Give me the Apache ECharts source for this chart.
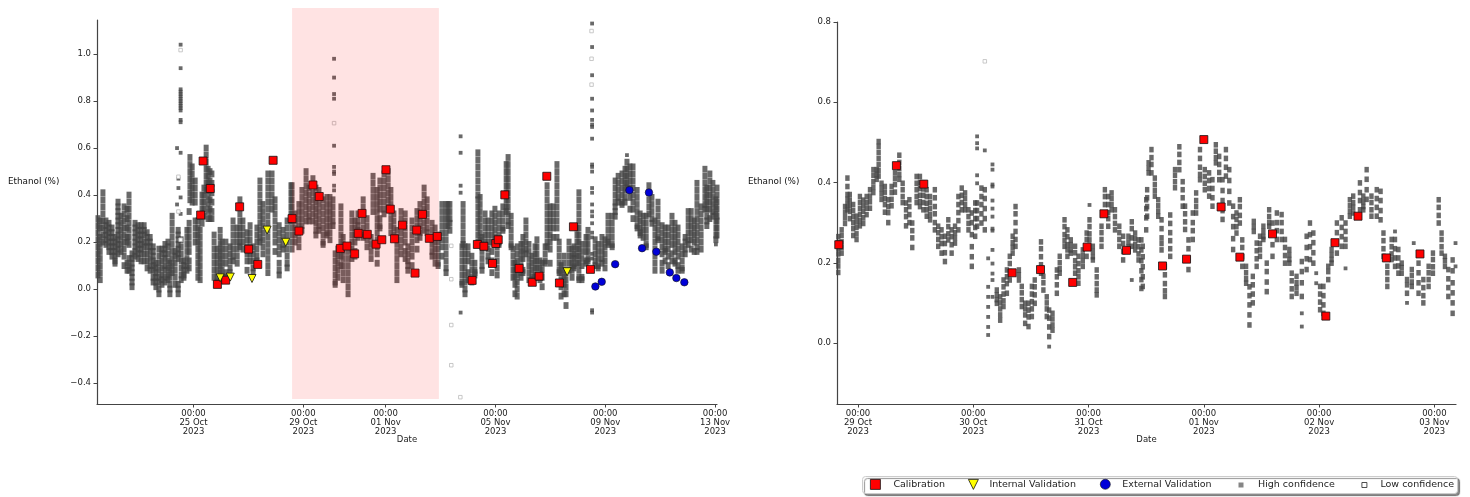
<!DOCTYPE html>
<html><head><meta charset="utf-8">
<style>html,body{margin:0;padding:0;background:#fff}#c{width:1470px;height:497px}</style>
<script src="https://cdn.jsdelivr.net/npm/echarts@6/dist/echarts.min.js"></script>
</head><body><div id="c"></div>
<script>
const DAY=86400000, HOUR=3600000;
const OCT25=new Date(2023,9,25).getTime(), OCT29=new Date(2023,9,29).getTime();
const tickLabelsLeft=["00:00\n25 Oct\n2023","00:00\n29 Oct\n2023","00:00\n01 Nov\n2023","00:00\n05 Nov\n2023","00:00\n09 Nov\n2023","00:00\n13 Nov\n2023"];
const tickDaysLeft=[0,4,7,11,15,19];
const tickLabelsRight=["00:00\n29 Oct\n2023","00:00\n30 Oct\n2023","00:00\n31 Oct\n2023","00:00\n01 Nov\n2023","00:00\n02 Nov\n2023","00:00\n03 Nov\n2023"];
const tickHoursRight=[0,24,48,72,96,120];
const yTicksLeft=[-0.4,-0.2,0,0.2,0.4,0.6,0.8,1.0];
const yTicksRight=[0,0.2,0.4,0.6,0.8];
// Left panel: [days after 25 Oct, value]
const calibrationLeft=[[.26,.315],[.35,.545],[.61,.428],[.87,.02],[1.17,.038],[1.68,.35],[2.01,.17],[2.34,.105],[2.9,.548],[3.59,.3],[3.84,.247],[4.35,.443],[4.58,.394],[5.35,.173],[5.59,.183],[5.87,.15],[6,.237],[6.14,.322],[6.33,.233],[6.65,.191],[6.86,.21],[7.01,.508],[7.17,.34],[7.32,.214],[7.61,.272],[8.07,.068],[8.13,.251],[8.34,.318],[8.59,.216],[8.88,.224],[10.15,.037],[10.34,.19],[10.58,.182],[10.89,.109],[11.01,.194],[11.1,.21],[11.34,.401],[11.86,.088],[12.34,.029],[12.59,.055],[12.87,.48],[13.33,.026],[13.84,.265],[14.46,.084]];
const internalLeft=[[.97,.048],[1.34,.051],[2.13,.045],[2.68,.251],[3.36,.199],[13.61,.074]];
const externalLeft=[[14.64,.011],[14.87,.031],[15.36,.106],[15.88,.421],[16.34,.174],[16.59,.411],[16.86,.159],[17.35,.071],[17.59,.047],[17.88,.029]];
const lowLeft=[[-.47,1.017],[-.55,.478],[-.55,.33],[-.47,.21],[5.12,.706],[9.39,.184],[9.39,.042],[9.39,-.153],[9.39,-.324],[9.72,-.46],[14.5,1.098],[14.5,.98],[14.5,.87]];
// Left panel readings: [days after 25 Oct, [values in hundredths]]
const highLeftColumns=[
[-3.48,[30,27,24,21,18,15,12,9,6]],[-3.4,[29,26,22,19,16,13,10,7,4]],[-3.3,[41,38,35,32,29,26,23,20]],[-3.19,[29,27,25,23,21,19]],[-3.08,[28,26,24,22,20,18,16]],[-2.97,[26,24,22,20,18,16,14]],[-2.86,[22,20,18,16,14,12,11]],[-2.75,[37,35,33,31,29,27,25,23,21,19,17,15]],[-2.64,[31,28,25,22,19,16]],[-2.53,[35,32,29,26,23,20,17,14,10]],[-2.42,[34,30,26,22,20,11,8]],[-2.35,[40,37,34,31,28,25,22,19,13,10,8]],[-2.24,[15,13,11,9,7,5,3,1]],[-2.13,[28,26,24,22,20,18,16,14]],[-2.02,[27,25,23,21,19,17,15,13]],[-1.91,[27,25,23,21,19,17,15,12]],[-1.8,[27,25,23,20,18,15,12]],[-1.69,[24,22,20,18,15,12,9]],[-1.58,[22,20,18,16,13,10,8]],[-1.47,[18,16,14,12,10,8,5,3]],[-1.37,[11,9,7,5,3,1]],[-1.26,[17,14,11,8,5,3,0,-2]],[-1.15,[17,15,12,9,6,4,2]],[-1.04,[19,17,15,13,10,8,5,3]],[-.93,[20,18,15,12,9,6,4]],[-.86,[11,8,5,2,0,-2]],[-.78,[31,28,25,22,19,16,13,10,7]],[-.67,[16,14,11,8,5,2]],[-.56,[25,23,21,19,17,15,13,2,0,-2]],[-.45,[21,18,15,12,9,6,4]],[-.35,[12,10,8,6,5]],[-.24,[25,22,19,16,13,10,8]],[-.16,[33,28,25,22,19,16,12,9]],[-.13,[56,53,50,47,44,41,38]],[-.05,[52,49,46,43,40,37]],[.06,[46,43,40,37,29,26,23,20]],[.16,[29,26,23,20,17,14,11,8,5]],[.24,[31,25,22,19,16,13,10,7,4]],[.31,[40,37,34,31,28]],[.38,[43,40,37,34,31]],[.46,[60,57,54,51,48,45,42]],[.53,[51,48,45,42,39,36,33,30]],[.6,[50,46,42,38,34,30]],[.67,[49,45,41,37,33,30]],[.75,[23,20,17,14,11,8,5]],[.86,[17,14,11,8,5,3]],[.97,[25,22,19,16,13,10,7,5]],[1.04,[20,17,14,11,8,5]],[1.18,[20,17,14,11,7,5]],[1.33,[18,15,12,9,7]],[1.44,[29,26,23,20,17,14,12]],[1.59,[26,23,20,17,14,11]],[1.69,[38,35,32,29,26,23,20,18]],[1.8,[29,26,23,20,17]],[1.95,[24,21,18,15,12,8]],[2.06,[27,24,21,18,15,12]],[2.17,[18,15,12,9,7]],[2.31,[26,23,20,17,14,12]],[2.42,[46,43,40,37,34,31,28,25,22,20]],[2.53,[36,33,30,27,24,21,18,15]],[2.71,[49,46,43,40,37,34,31,28,25,22,19,16,13,10,7]],[2.86,[49,46,43,40,37,34]],[2.97,[38,35,32,29,26,23,20,16]],[3.12,[27,24,21,18,15,11,8,6]],[3.26,[25,22,19,17]],[3.41,[29,26,23,20,17,14,11,9]],[3.55,[44,41,38,35,32,29]],
[3.59,[44,41,38,35,32,29,26,23,20,17]],[3.7,[32,29,26,23,20]],[3.84,[36,33,30,27,24,21,18]],[3.95,[42,39,36,33,30,27,25]],[4.1,[50,47,44,41,38,35,32,29]],[4.21,[43,40,37,34,31,29]],[4.35,[47,44,41,38,35,32,29]],[4.46,[43,40,37,34,31,28,25,23]],[4.57,[42,39,36,33,30,27,25]],[4.72,[38,35,32,29,26,23,20,19]],[4.86,[39,36,33,30,27,24,23]],[4.97,[39,36,33,30,27,24,21]],[5.08,[38,35,32,29,27]],[5.16,[15,12,9,6,3,2]],[5.26,[17,14,11,8,5]],[5.37,[35,32,29,26,23,20,17,14,10]],[5.45,[22,19,16,13,10,7,4]],[5.63,[16,13,10,7,4,1,-2]],[5.77,[32,29,26,23,20,17,13]],[5.88,[29,26,23,20,16,14]],[5.99,[32,29,27,25,22]],[6.18,[38,35,32,29,26,23,22]],[6.32,[30,27,24,21,18]],[6.47,[22,19,16,13]],[6.54,[48,45,42,39,36,33]],[6.69,[42,39,36,33,30,27,24,21,18,15,11]],[6.79,[46,43,40,37,34,30,27,26]],[6.94,[49,46,43,40,37,34,32]],[7.09,[50,47,44,41,38,35]],[7.19,[42,39,36,33,30,27,24]],[7.3,[32,29,26,23,22]],[7.41,[25,22,19,16,13,10,7,4]],[7.56,[33,30,27,24,21,18,15]],[7.71,[32,29,26,23,20,16,13]],[7.81,[18,15,12,10,8]],[7.96,[29,26,23,20,17,14,10]],[8.14,[33,30,27,24,21,17]],[8.25,[36,33,30,27,24,22]],[8.4,[43,40,37,34,31,28,25]],[8.51,[38,35,32,29,26,24]],[8.69,[28,25,22,19,16,14]],[8.8,[26,23,20,17,14,11]],[8.91,[23,20,17,14,11,10]],[9.05,[36,33,30,27,24,21,18,14]],[9.2,[36,33,30,27,24,21,18,15,12,9,7]],[9.27,[36,33,30,27]],[9.34,[36,33,30,28,25]],
[9.78,[18,15,12,9,6,3,2]],[9.82,[36,33,30,27,24,21,19]],[9.89,[18,15,12,9,6,3,0,-2]],[10,[18,15,12,7,4]],[10.14,[14,11,8,5,3]],[10.25,[11,8,7,6]],[10.36,[58,55,52,49,46,43,40,38,35,32,29,26,23,20]],[10.44,[39,36,33,30,27,24,21]],[10.51,[22,19,16,13,10,8]],[10.62,[32,29,26,23,20,18]],[10.73,[29,26,23,20,17,14,12]],[10.87,[32,29,26,23,20,16,12,7]],[10.98,[34,31,28,25,22,19]],[11.06,[21,18,15,12,9,6]],[11.13,[32,29,26,23,20,19]],[11.27,[35,32,29,26,25]],[11.39,[53,50,47,44,41,38,35,33]],[11.46,[56,53,50,47,44,41,38,35,32,29,27]],[11.57,[31,28,25,22,19,18]],[11.64,[17,14,11,8,5]],[11.71,[11,8,5,2,-2]],[11.79,[18,15,12,9,6,3,0,-3]],[11.93,[19,16,13,10,7,5]],[12,[22,19,16,13,8,7]],[12.11,[29,26,23,20,17,15]],[12.22,[19,16,13,10,7,4]],[12.33,[14,11,8,5,4]],[12.44,[18,15,12,9,6,5]],[12.51,[21,18,15,12,9,5]],[12.62,[12,9,6,4]],[12.7,[11,8,5,1]],[12.81,[18,15,12,11]],[12.88,[44,41,38,35,32,29,26,23,20,18]],[12.99,[35,32,29,26,23,20,17,11]],[13.1,[35,32,29,26,22]],[13.24,[53,50,47,44,41,38,35,32,29,26,22]],[13.32,[20,17,14,11,8,7]],[13.39,[10,7,4,1,-3]],[13.5,[14,11,8,5,2,-2]],[13.57,[7,4,1,-2,-7]],[13.68,[20,17,14,11,8]],[13.79,[17,14,11,8,5]],[13.86,[18,15,13,10,9]],[13.97,[26,23,20,17,14,11]],[14.04,[41,38,35,32,29,26,23,20,17,14,11,8,5,4]],[14.15,[19,16,13,10,5,4]],[14.3,[22,19,16,12,11]],[14.37,[25,22,19,16,13,12]],[14.63,[21,18,15,12,10]],[14.74,[19,16,13,10,9]],[14.88,[22,19,16,13,11]],[14.99,[21,18,15,12,9]],[15.1,[31,28,25,22,20,19]],[15.25,[31,28,25,22,19,18]],[15.36,[46,43,40,37,35,33,31]],[15.47,[48,45,42,39,37]],[15.61,[49,46,43,40,37,36]],[15.72,[51,48,45,42,39,37]],[15.79,[54,51,48,45,43]],[15.9,[52,49,46,43,39,34]],[16.01,[52,49,46,43,40,37,34,30]],[16.16,[42,39,36,33,30,27,26]],[16.27,[32,29,26,24,23]],[16.38,[31,28,25,22]],[16.49,[31,28,25,22,19,18]],[16.59,[44,41,38,35,32]],[16.7,[39,36,33,30,28]],[16.81,[29,26,23,20,17,14,11,8]],[16.92,[37,34,31,28,25,22,21]],[17.07,[27,24,21,18,15,11,8]],[17.18,[26,23,20,17,16,12]],[17.29,[26,23,20,17,14,10]],[17.43,[31,28,25,22,19,15,12]],[17.54,[28,25,22,19,16,12,11]],[17.65,[26,23,20,17,14,10,8]],[17.8,[18,15,12,9,8]],[17.91,[22,20,17,15]],[18.02,[33,30,27,24,21,19]],[18.13,[33,30,27,24,21,17]],[18.24,[29,26,23,20,16]],[18.34,[45,42,39,36,33,30,27,24,21,18,16]],[18.49,[35,32,29,26,23,20,17]],[18.63,[51,48,45,42,39,36,34]],[18.7,[43,40,37,34,31,29,27]],[18.81,[49,46,43,40,37,34,30]],[18.92,[45,42,39,36,33,31]],[19.03,[38,35,32,29,26,23,21]],[19.07,[43,40,37,34,31,29,26,23]]];
// Isolated left-panel readings (spikes)
const sparseLeftColumns=[[5.12,[98,90,83,81,61,52,50,49,44,42]],[9.73,[65,58,44,41,-10]],[14.52,[113,103,91,81,76,72,70,69,64,53,52,50,43,41,36,33,31,28,24,22,15,13,9,8,-9,-10]],[15.79,[57]],[19.03,[19]],[-.47,[104,94,85,84,83,82,81,80,79,78,77,76,72,71,58,39,32]],[-.6,[60,36]],[-.55,[47,43]]];
// Right panel: [hours after 29 Oct 00:00, value]
const calibrationRight=[[-4,.245],[8,.442],[13.7,.396],[32.1,.175],[38,.183],[44.7,.151],[47.7,.239],[51.2,.322],[55.9,.231],[63.4,.192],[68.4,.209],[72,.507],[75.6,.339],[79.5,.214],[86.3,.272],[97.4,.067],[99.3,.25],[104.1,.316],[110,.212],[117,.222]];
const lowRight=[[26.4,.702]];
// Right panel readings: [hours after 29 Oct 00:00, [values in thousandths]]
const highRightColumns=[
[-4.1,[265,250,236,222,206,192,176]],[-3.4,[282,268,252,238,224]],[-2.7,[340,326,312,298]],[-2.2,[411,390,370,358,345,332]],[-1.7,[370,356,342,328,310]],[-1,[345,330,315,300,285,268]],[-.3,[316,302,288,272,258]],[.4,[365,350,335,320,305,292]],[1.1,[356,342,328,312,298]],[1.8,[365,350,336,320]],[2.5,[382,366,352,336]],[3.2,[432,418,402,388,375]],[3.9,[432,420,408]],[4.3,[502,490,475,460,445,430,416]],[4.9,[398,385,372,358]],[5.6,[390,376,360,345,326]],[6.3,[357,340,325,300]],[7,[390,375,358,342]],[7.7,[424,410,395,376]],[8.6,[468,450,435,420,408]],[9.3,[398,382,365,350]],[10,[349,332,315,292]],[10.7,[357,340,320,300]],[11.3,[299,280,262,238]],[12.2,[415,398,382,365,350]],[12.9,[415,400,385,368,352,340]],[13.6,[399,384,368,350,332]],[14.3,[382,365,348,332,316]],[15,[365,350,335,320,307]],[16,[382,362,340,322,300,282]],[16.7,[291,275,258,241]],[17.4,[282,265,248,224]],[18.1,[266,248,225,203]],[18.8,[307,290,272,257]],[19.5,[282,265,245,224]],[20.2,[291,275,262,249]],[20.9,[365,345,325,305,282]],[21.6,[386,368,350,332]],[22.3,[374,360,345,332]],[23,[332,315,298,282]],[23.7,[324,300,270,240,215,191]],[24.4,[349,330,310,288,266]],[24.8,[349,330,310,291]],[25.7,[386,365,345,322,299]],[26.4,[382,360,335,310,282]],
[28.9,[132,120,108,99]],[29.6,[115,100,85,70,57]],[30.3,[157,140,122,105,91]],[31,[182,165,148,124]],[31.6,[216,198,178,157]],[32.2,[266,250,238,224]],[32.8,[340,322,300,278,258,241]],[33.5,[182,170,157]],[34.1,[141,125,108,91]],[34.8,[99,85,70,49]],[35.5,[99,82,65,41]],[36.2,[141,122,103,85,66]],[36.8,[157,140,120,99]],[38.1,[252,235,215,195,174]],[38.6,[166,150,132]],[39.3,[115,100,85,66]],[39.8,[82,62,40,16]],[40.5,[74,60,45,32]],[41.4,[182,165,145,124]],[42,[216,200,185,174]],[43,[307,290,270,255,241]],[43.6,[282,265,245,232,216]],[44.3,[257,245,232,224]],[45.2,[241,225,205,190,174]],[45.9,[216,198,180,165,149]],[46.8,[232,218,205,191]],[47.6,[274,258,238,216]],[48.2,[307,290,272,257]],[48.9,[241,228,215,207]],[49.7,[182,165,148,132,120]],[50.7,[291,275,258,241]],[51.4,[382,365,345,324]],[52.1,[365,345,325,310,291]],[52.8,[374,360,345,332]],[53.5,[332,315,298,282]],[54.4,[291,275,258,241]],[55.2,[266,248,228,207]],[56.3,[266,252,240,232]],[57,[302,285,262,241]],[57.7,[274,260,245,232]],[58.4,[257,240,222,207]],[59,[257,232,205,180,158,136]],[59.3,[241,215,190,165,141]],[60,[357,335,312,282]],[60.2,[382,362,340,316]],[60.5,[449,436,424]],
[61.1,[482,462,445,424]],[61.8,[411,395,380,366]],[62.5,[357,342,328,316]],[63.2,[307,285,262,248,232]],[63.9,[191,170,148,130,116]],[65,[319,298,275,255,235,216]],[66,[432,418,402,387]],[66.9,[489,470,450,432]],[67.6,[402,382,362,341]],[68.1,[341,322,302,283]],[68.8,[257,235,210,183]],[69.7,[324,300,280,258]],[70.4,[374,355,340,324]],[71.2,[482,460,438,420,407]],[72.2,[432,415,398,382]],[73.1,[424,405,385,366]],[73.8,[407,385,362,341]],[74.5,[494,478,462,449]],[75.2,[465,445,425,407]],[75.9,[407,380,355,330,308]],[76.6,[482,460,438,416]],[77.3,[432,405,378,349]],[78.1,[341,315,290,260,233]],[78.8,[324,308,290,274]],[79.5,[357,340,318,299]],[80,[257,238,215,191]],[80.8,[191,175,160,149]],[81.5,[140,118,95,70,45]],[82.2,[166,145,122,100]],[82.4,[303,290,278]],[83,[249,230,210,191]],[83.7,[266,248,232,216]],[84.4,[291,278,265,258]],[85.1,[199,178,152,128]],[85.6,[332,315,300,291]],[86.3,[299,272,245,216]],[87.2,[324,300,280,258]],[88.2,[320,300,278,258]],[88.9,[258,238,218,199]],[89.8,[233,220,208,199]],[90.3,[174,155,135,116]],[91.3,[166,150,138,124]],[92.4,[203,178,150,116]],[93.4,[266,238,210,183]],[94.1,[299,270,240,208]],[94.8,[274,250,225,199]],[96.2,[141,122,102,83]],[96.9,[141,118,95,74]],[97.9,[191,178,158]],[98.6,[233,220,208,199]],[99.7,[299,275,250,224]],[100.7,[312,288,265,241]],[101.5,[299,278,258,241]],[102.4,[357,342,328,316]],[103.1,[366,350,338,324]],[104.5,[399,375,355,332]],[105.2,[366,352,340,332]],[105.9,[432,408,382,358]],[106.9,[366,350,332,316]],[108,[382,360,338,316]],[108.8,[378,355,330,307]],[109.4,[274,255,235,216]],[110.2,[191,175,158,141]],[111.1,[258,240,222,208]],[111.8,[258,235,212,191]],[112.5,[233,212,192,174]],[113.2,[199,188,174]],[114.3,[158,145,124]],[115.3,[183,168,152,141]],[116.7,[199,175,150,124]],[117.7,[158,138,118,100]],[118.8,[191,175,158,141]],[119.7,[224,208,190,174]],[120.9,[357,338,318,299]],[121.5,[274,258,240,224]],[122.2,[216,205,191]],[122.9,[183,160,138,116]],[123.8,[207,180,150,125,100,74]]];
// Isolated right-panel readings
const sparseRightColumns=[[24.8,[515,498,485,418,398]],[26.4,[480]],[27.1,[211,140,115,90,65,40,20]],[28,[445,432,395,390,355,335,315,285,280,232,198,173,157,115]],[39.8,[-9]],[48.2,[344]],[57,[157]],[92.4,[74,41]],[95.4,[174,149]],[101.5,[186]],[111.8,[278]],[114.3,[100]],[115.7,[249]],[124.4,[249,191]]];

const leftPoint=p=>[OCT25+p[0]*DAY,p[1]];
const rightPoint=p=>[OCT29+p[0]*HOUR,p[1]];
const leftCols=(cols)=>cols.flatMap(c=>c[1].map(v=>[OCT25+c[0]*DAY,v/100]));
const rightCols=(cols)=>cols.flatMap(c=>c[1].map(v=>[OCT29+c[0]*HOUR,v/1000]));
const highlightDays=[3.59,8.94], highlightValues=[1.196,-0.468];

const TRI='path://M0 0L10 0L5 10Z';
const font='DejaVu Sans';
const lineC='#444';
function xAxis(i,min,max,vals,labels){
  return {type:'value',gridIndex:i,min,max,name:'Date',nameLocation:'middle',nameGap:31,nameMoveOverlap:false,
    nameTextStyle:{fontFamily:font,fontSize:8.5,color:'#222'},
    axisLine:{show:true,onZero:false,lineStyle:{color:lineC,width:1.2}},
    axisTick:{show:true,length:3.5,customValues:vals,lineStyle:{color:lineC,width:1}},
    splitLine:{show:false},
    axisLabel:{customValues:vals,fontFamily:font,fontSize:8.5,lineHeight:9.3,color:'#222',margin:5,hideOverlap:false,
      formatter:v=>labels[vals.indexOf(v)]}};
}
function yAxis(i,min,max,vals){
  return {type:'value',gridIndex:i,min,max,
    axisLine:{show:true,onZero:false,lineStyle:{color:lineC,width:1.2}},
    axisTick:{show:true,length:3.5,customValues:vals,lineStyle:{color:lineC,width:1}},
    splitLine:{show:false},
    axisLabel:{customValues:vals,fontFamily:font,fontSize:8.5,color:'#222',margin:6,hideOverlap:false,
      formatter:v=>v.toFixed(1).replace('-','\u2212')}};
}
const S={
  cal:(d,i)=>({name:'Calibration',type:'scatter',xAxisIndex:i,yAxisIndex:i,data:d,symbol:'rect',symbolSize:8,z:6,clip:false,itemStyle:{color:'#f00',borderColor:'#111',borderWidth:.8,opacity:1}}),
  int:(d,i)=>({name:'Internal Validation',type:'scatter',xAxisIndex:i,yAxisIndex:i,data:d,symbol:TRI,symbolSize:8,z:6,itemStyle:{color:'#ff0',borderColor:'#111',borderWidth:.8,opacity:1}}),
  ext:(d,i)=>({name:'External Validation',type:'scatter',xAxisIndex:i,yAxisIndex:i,data:d,symbol:'circle',symbolSize:7.5,z:6,itemStyle:{color:'#0000d8',borderColor:'#111',borderWidth:.6,opacity:1}}),
  high:(d,i,size)=>({name:'High confidence',type:'scatter',xAxisIndex:i,yAxisIndex:i,data:d,symbol:'rect',symbolSize:size,z:3,itemStyle:{color:'#444',opacity:.8}}),
  low:(d,i)=>({name:'Low confidence',type:'scatter',xAxisIndex:i,yAxisIndex:i,data:d,symbol:'rect',symbolSize:3.5,z:3,itemStyle:{color:'#fff',borderColor:'#bbb',borderWidth:.8,opacity:1}})
};
function lg(name,left,top,w,h,pad,extra){
  return Object.assign({data:[name],left,top,itemWidth:w,itemHeight:h,itemGap:0,padding:0,
    textStyle:{fontFamily:font,fontSize:9.5,color:'#222',padding:[0,0,0,pad]},selectedMode:false},extra||{});
}
function yName(left){return {text:'Ethanol (%)',left,top:177,padding:0,textStyle:{fontFamily:font,fontSize:8.8,fontWeight:'normal',color:'#111'}};}
const chart=echarts.init(document.getElementById('c'),null,{renderer:'canvas'});
chart.setOption({
  animation:false,backgroundColor:'#fff',
  title:[yName(8),yName(748)],
  grid:[{left:97,right:753,top:20,bottom:93},{left:837,right:14,top:22,bottom:93}],
  xAxis:[
    xAxis(0,OCT25-3.516*DAY,OCT25+19.07*DAY,tickDaysLeft.map(d=>OCT25+d*DAY),tickLabelsLeft),
    xAxis(1,OCT29-4.37*HOUR,OCT29+124.5*HOUR,tickHoursRight.map(h=>OCT29+h*HOUR),tickLabelsRight)],
  yAxis:[yAxis(0,-0.489,1.145,yTicksLeft),yAxis(1,-0.152,0.8,yTicksRight)],
  legend:[
    lg('Calibration',870,479,10,10,8,{itemStyle:{borderColor:'#111',borderWidth:.8},icon:'rect'}),
    lg('Internal Validation',968,479,10,10,6,{icon:TRI,itemStyle:{borderColor:'#111',borderWidth:.8}}),
    lg('External Validation',1100,479,10,10,7,{icon:'circle',itemStyle:{borderColor:'#111',borderWidth:.6}}),
    lg('High confidence',1238.5,480,5,5,9.5,{icon:'rect',itemStyle:{color:'#666'}}),
    lg('Low confidence',1361.5,480,5,5,8.5,{icon:'rect',itemStyle:{color:'#fff',borderColor:'#222',borderWidth:.8}})],
  graphic:[{type:'rect',z:-1,silent:true,shape:{x:862.5,y:476.5,width:595,height:17,r:3},
    style:{fill:'#fff',stroke:'#ccc',lineWidth:1,shadowBlur:1,shadowOffsetX:2,shadowOffsetY:2,shadowColor:'rgba(0,0,0,.45)'}}],
  series:[
    S.high(leftCols(highLeftColumns),0,[5,6.8]),S.high(leftCols(sparseLeftColumns),0,3.8),S.low(lowLeft.map(leftPoint),0),
    S.cal(calibrationLeft.map(leftPoint),0),S.int(internalLeft.map(leftPoint),0),S.ext(externalLeft.map(leftPoint),0),
    S.high(rightCols(highRightColumns),1,[4.4,5.6]),S.high(rightCols(sparseRightColumns),1,3.8),S.low(lowRight.map(rightPoint),1),S.cal(calibrationRight.map(rightPoint),1),
    {type:'custom',name:'Highlighted period',xAxisIndex:0,yAxisIndex:0,clip:false,silent:true,z:10,
     data:[[OCT25+highlightDays[0]*DAY,highlightValues[0],OCT25+highlightDays[1]*DAY,highlightValues[1]]],
     encode:{x:[0,2],y:[1,3]},
     renderItem:(p,api)=>{
       const a=api.coord([api.value(0),api.value(1)]),b=api.coord([api.value(2),api.value(3)]);
       return {type:'rect',shape:{x:a[0],y:a[1],width:b[0]-a[0],height:b[1]-a[1]},style:{fill:'rgba(255,0,0,.11)'}};
     }}
  ]
});
</script></body></html>
